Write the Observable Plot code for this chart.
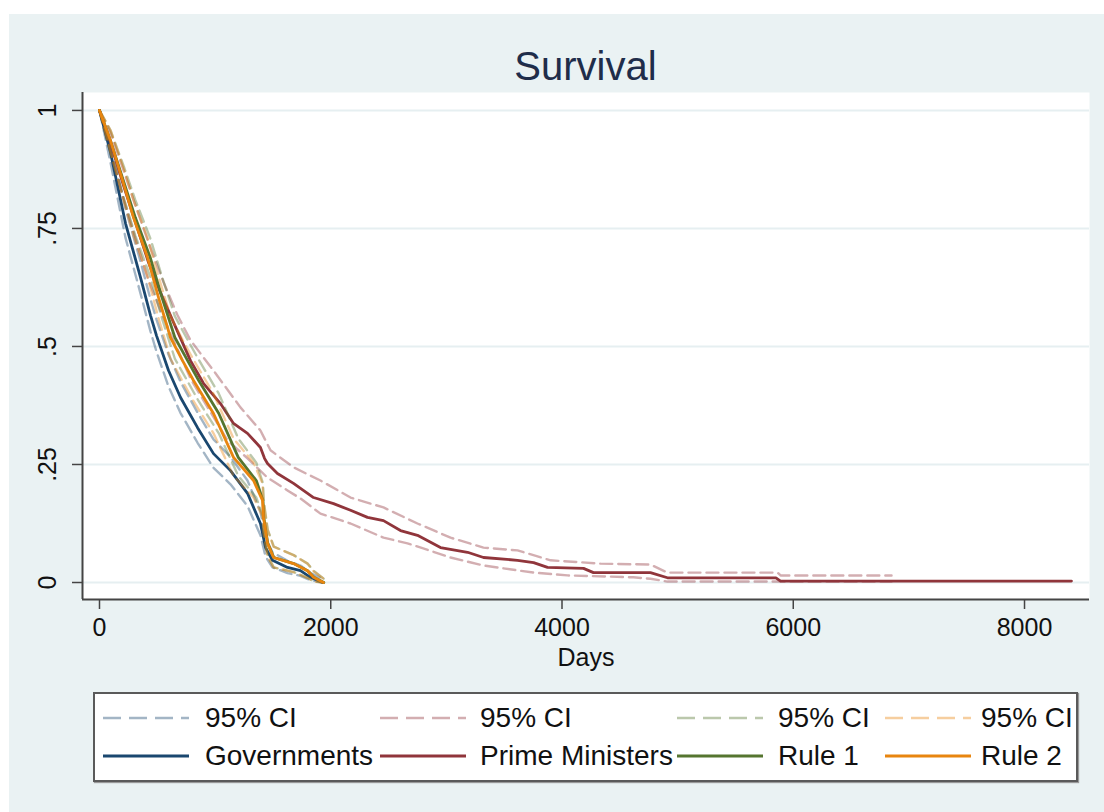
<!DOCTYPE html>
<html><head><meta charset="utf-8">
<script src="https://cdn.jsdelivr.net/npm/d3@7"></script>
<script src="https://cdn.jsdelivr.net/npm/@observablehq/plot@0.6"></script>
<style>
html,body{margin:0;padding:0;background:#fff;}
body{width:1104px;height:812px;position:relative;overflow:hidden;font-family:"Liberation Sans",Arimo,Arial,sans-serif;}
#bg{position:absolute;left:9px;top:14px;width:1095px;height:798px;background:#eaf2f3;}
#title{position:absolute;left:82px;width:1007px;top:45px;line-height:42px;text-align:center;font-size:40px;color:#1f2d4a;}
#chart{position:absolute;left:0;top:88px;}
#legend{position:absolute;left:93px;top:692px;width:981px;height:86px;background:#fff;border:2px solid #5a5a5a;overflow:hidden;box-shadow:1px 1px 1px #999;}
.item{position:absolute;height:32px;line-height:32px;font-size:28px;color:#111;white-space:nowrap;}
.sample{position:absolute;}
</style></head>
<body>
<div id="bg"></div>
<div id="title">Survival</div>
<div id="chart"></div>
<div id="legend"></div>
<script>
// ---- data (days, survival) ----
const govDays = [0,95,225,355,441,493,597,701,848,986,1133,1280,1392,1436,1496,1626,1738,1825,1929];
const govS    = [1,0.911,0.761,0.646,0.566,0.523,0.449,0.392,0.328,0.273,0.237,0.189,0.125,0.074,0.047,0.032,0.025,0.011,0];
const govHi   = [1,0.93,0.792,0.68,0.60,0.557,0.483,0.425,0.36,0.303,0.266,0.216,0.15,0.095,0.064,0.046,0.036,0.02,0.008];
const govLo   = [1,0.89,0.73,0.612,0.532,0.489,0.415,0.359,0.296,0.243,0.208,0.162,0.10,0.055,0.032,0.02,0.014,0.005,0];

const pmDays = [0,95,208,311,424,528,640,787,899,1046,1159,1280,1392,1427,1453,1539,1678,1851,2024,2171,2318,2456,2603,2750,2949,3183,3321,3615,3754,3875,4186,4272,4765,4912,5850,5890,8406];
const pmS    = [1,0.932,0.841,0.763,0.678,0.614,0.551,0.470,0.422,0.379,0.337,0.316,0.286,0.263,0.252,0.231,0.210,0.180,0.167,0.153,0.138,0.131,0.110,0.100,0.074,0.064,0.053,0.047,0.042,0.032,0.030,0.021,0.021,0.010,0.010,0.003,0.003];
const pmHiDays = [0,95,208,311,424,554,675,787,986,1219,1392,1479,1678,1911,2171,2456,2750,3036,3321,3615,3901,4333,4765,4912,5864,5890,6850];
const pmHi     = [1,0.953,0.873,0.799,0.720,0.636,0.566,0.513,0.449,0.371,0.322,0.280,0.244,0.216,0.180,0.159,0.125,0.095,0.074,0.068,0.047,0.040,0.038,0.021,0.021,0.015,0.015];
const pmLoDays = [0,95,208,311,424,528,640,787,899,1107,1280,1453,1626,1738,1911,2171,2456,2664,3036,3321,3754,4047,4618,4765,4912,6850];
const pmLo     = [1,0.915,0.814,0.729,0.640,0.576,0.513,0.432,0.386,0.301,0.263,0.222,0.195,0.178,0.146,0.125,0.095,0.083,0.053,0.036,0.021,0.015,0.011,0.008,0.002,0.002];

const r1Days = [0,95,215,310,438,540,652,762,858,1032,1200,1356,1414,1421,1455,1508,1680,1800,1855,1940];
const r1S    = [1,0.936,0.845,0.773,0.689,0.604,0.519,0.470,0.428,0.358,0.265,0.216,0.174,0.138,0.083,0.053,0.040,0.025,0.011,0];
const r1Hi   = [1,0.958,0.878,0.81,0.73,0.648,0.564,0.514,0.472,0.4,0.305,0.254,0.21,0.172,0.112,0.076,0.058,0.04,0.024,0.008];
const r1Lo   = [1,0.912,0.81,0.735,0.648,0.56,0.474,0.426,0.384,0.316,0.226,0.18,0.14,0.106,0.056,0.032,0.022,0.01,0.002,0];

const r2Days = [0,95,208,294,415,510,614,718,813,986,1159,1332,1410,1418,1453,1505,1678,1799,1851,1937];
const r2S    = [1,0.936,0.845,0.773,0.689,0.604,0.519,0.470,0.428,0.358,0.265,0.216,0.174,0.138,0.083,0.053,0.040,0.025,0.011,0];
const r2Hi   = [1,0.958,0.878,0.81,0.73,0.648,0.564,0.514,0.472,0.4,0.305,0.254,0.21,0.172,0.112,0.076,0.058,0.04,0.024,0.008];
const r2Lo   = [1,0.912,0.81,0.735,0.648,0.56,0.474,0.426,0.384,0.316,0.226,0.18,0.14,0.106,0.056,0.032,0.022,0.01,0.002,0];

const xTicks = [0,2000,4000,6000,8000];
const yTicks = [0,0.25,0.5,0.75,1];
const yTickLabels = ["0",".25",".5",".75","1"];
const seriesNames = ["Governments","Prime Ministers","Rule 1","Rule 2"];
const colors = ["#1a476f","#90353b","#55752f","#e8850f"];

// ---- build ----
const pts = (d, s) => d.map((v, i) => ({day: v, s: s[i]}));
const series = [
  {main: pts(govDays, govS), hi: pts(govDays, govHi), lo: pts(govDays, govLo)},
  {main: pts(pmDays, pmS), hi: pts(pmHiDays, pmHi), lo: pts(pmLoDays, pmLo)},
  {main: pts(r1Days, r1S), hi: pts(r1Days, r1Hi), lo: pts(r1Days, r1Lo)},
  {main: pts(r2Days, r2S), hi: pts(r2Days, r2Hi), lo: pts(r2Days, r2Lo)}
];
const xDom = [-147, 8562], yDom = [-0.036, 1.038];
const ciStyle = c => ({x: "day", y: "s", stroke: c, strokeOpacity: 0.4, strokeWidth: 2.4, strokeDasharray: "12,6"});
const lineMarks = [];
series.forEach((sr, i) => {
  lineMarks.push(Plot.line(sr.hi, ciStyle(colors[i])));
  lineMarks.push(Plot.line(sr.lo, ciStyle(colors[i])));
  lineMarks.push(Plot.line(sr.main, {x: "day", y: "s", stroke: colors[i], strokeWidth: 2.8, strokeLinejoin: "round"}));
});

const chart = Plot.plot({
  width: 1104, height: 601,
  marginLeft: 82, marginRight: 15, marginTop: 4, marginBottom: 90,
  style: {background: "transparent", fontFamily: "'Liberation Sans', Arimo, Arial, sans-serif", fontSize: "25px", color: "#111"},
  x: {domain: xDom},
  y: {domain: yDom},
  marks: [
    Plot.frame({fill: "white", stroke: "none"}),
    Plot.ruleY(yTicks, {stroke: "#e6eff1", strokeWidth: 2}),
    ...lineMarks,
    Plot.ruleX([xDom[0]], {stroke: "#444", strokeWidth: 2}),
    Plot.ruleY([yDom[0]], {stroke: "#444", strokeWidth: 2}),
    Plot.axisX({ticks: xTicks, tickFormat: d => String(d), tickSize: 10, tickPadding: 9, stroke: "#444", strokeWidth: 1.5, label: null}),
    Plot.axisY({ticks: yTicks, tickFormat: d => yTickLabels[yTicks.indexOf(d)], tickSize: 10, tickPadding: 17, tickRotate: -90, stroke: "#444", strokeWidth: 1.5, label: null}),
    Plot.text(["Days"], {frameAnchor: "bottom", dy: 66, text: d => d, fontSize: 25, fill: "#111"})
  ]
});
document.getElementById("chart").appendChild(chart);

// ---- legend ----
const legend = document.getElementById("legend");
const lineStart = [8, 285, 582, 790];
const textStart = [110, 385, 683, 886];
const rowTop = [8, 46];
colors.forEach((c, i) => {
  [[true, "95% CI"], [false, seriesNames[i]]].forEach(([dash, label], r) => {
    const svg = d3.create("svg").attr("class", "sample").attr("width", 86).attr("height", 32)
      .style("left", lineStart[i] + "px").style("top", rowTop[r] + "px");
    svg.append("line").attr("x1", 0).attr("x2", 86).attr("y1", 16).attr("y2", 16)
      .attr("stroke", c).attr("stroke-width", dash ? 2.4 : 2.8)
      .attr("stroke-opacity", dash ? 0.4 : 1)
      .attr("stroke-dasharray", dash ? "18,8" : null);
    legend.appendChild(svg.node());
    const t = document.createElement("div");
    t.className = "item"; t.textContent = label;
    t.style.left = textStart[i] + "px"; t.style.top = rowTop[r] + "px";
    legend.appendChild(t);
  });
});
</script>
</body></html>
